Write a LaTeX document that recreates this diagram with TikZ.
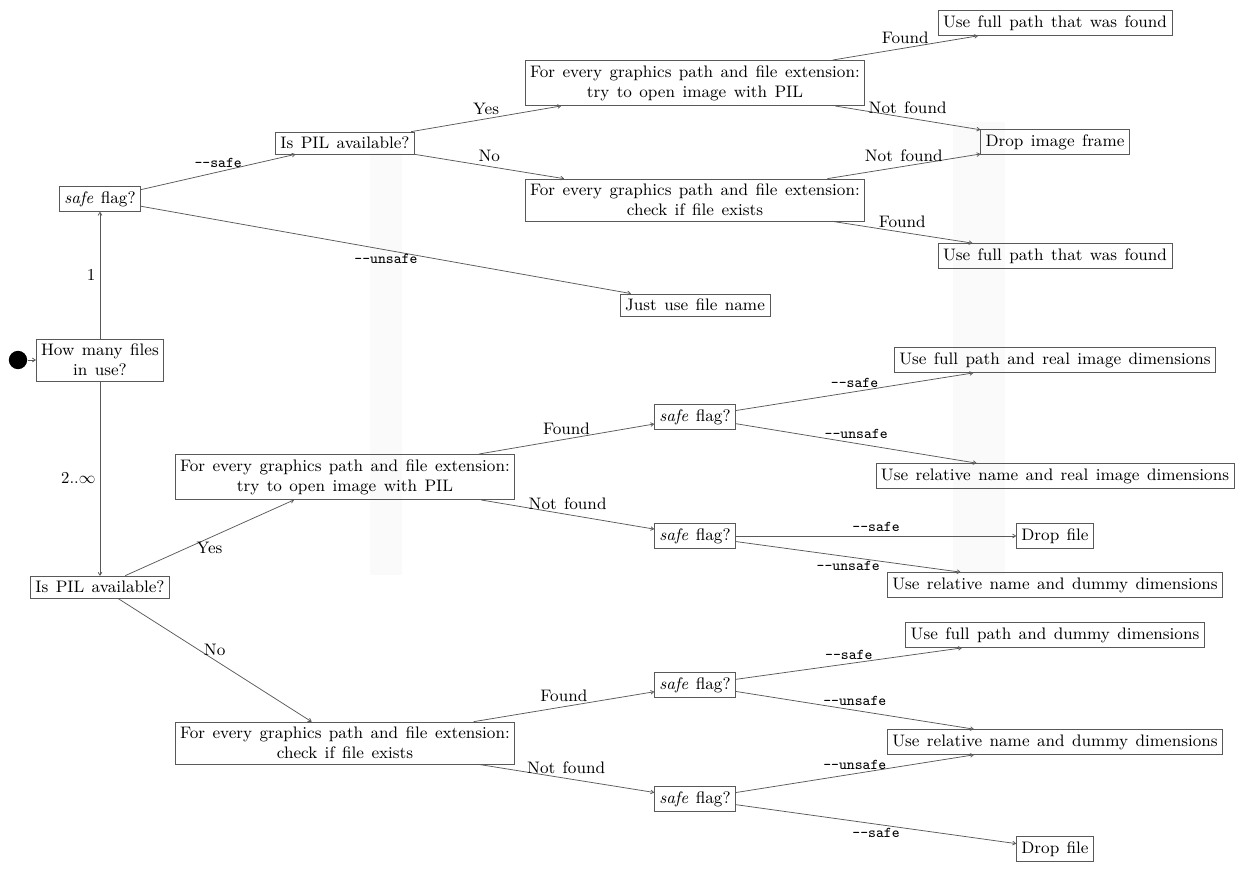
\documentclass[tikz,border=0pt]{standalone}
\usepackage{fontspec}
\setmainfont{lmroman9-regular.otf}[ItalicFont=lmroman9-italic.otf,WordSpace=1.3]
\setmonofont{lmmono9-regular.otf}
\usetikzlibrary{arrows.meta}
\begin{document}
\begin{tikzpicture}[x=0.6pt,y=-0.6pt,
  box/.style={draw=black!65,line width=0.45pt,align=center,inner sep=3pt},
  conn/.style={draw=black!65,line width=0.45pt,-{To[length=2.2pt,width=2.6pt]}},
  lab/.style={inner sep=2.5pt,font=\normalsize},
  tlab/.style={inner sep=2.5pt,font=\fontsize{9}{11}\selectfont\ttfamily},
  band/.style={fill=black!2,draw=none}]
\useasboundingbox (0,0) rectangle (1250,875);
% faint bands
\fill[band] (370,153) rectangle (402,575);
\fill[band] (953,122) rectangle (1005,575);
% nodes
\node[circle,fill=black,minimum size=11pt,inner sep=0pt] (start) at (18,360) {};
\node[box] (many) at (100,360) {How many files\\in use?};
\node[box] (safe1) at (100,199) {\emph{safe} flag?};
\node[box] (pil1) at (345,143) {Is PIL available?};
\node[box] (try1) at (695,83) {For every graphics path and file extension:\\try to open image with PIL};
\node[box] (chk1) at (695,200) {For every graphics path and file extension:\\check if file exists};
\node[box] (found1) at (1055,23) {Use full path that was found};
\node[box] (drop) at (1055,142) {Drop image frame};
\node[box] (found2) at (1055,256) {Use full path that was found};
\node[box] (just) at (695,305) {Just use file name};
\node[box] (pil2) at (100,587) {Is PIL available?};
\node[box] (try2) at (345,477) {For every graphics path and file extension:\\try to open image with PIL};
\node[box] (chk2) at (345,743) {For every graphics path and file extension:\\check if file exists};
\node[box] (safeA) at (695,417) {\emph{safe} flag?};
\node[box] (safeB) at (695,536) {\emph{safe} flag?};
\node[box] (safeC) at (695,685) {\emph{safe} flag?};
\node[box] (safeD) at (695,799) {\emph{safe} flag?};
\node[box] (fullreal) at (1055,360) {Use full path and real image dimensions};
\node[box] (relreal) at (1055,476) {Use relative name and real image dimensions};
\node[box] (dropfileA) at (1055,536) {Drop file};
\node[box] (reldumA) at (1055,585) {Use relative name and dummy dimensions};
\node[box] (fulldum) at (1055,635) {Use full path and dummy dimensions};
\node[box] (reldumB) at (1055,742) {Use relative name and dummy dimensions};
\node[box] (dropfileB) at (1055,849) {Drop file};
% connectors
\draw[conn] (start) -- (many);
\draw[conn] (many) -- node[lab,midway,left]{1} (safe1);
\draw[conn] (many) -- node[lab,midway,left]{$2..\infty$} (pil2);
\draw[conn] (safe1) -- node[tlab,midway,above]{-{}-safe} (pil1);
\draw[conn] (safe1) -- node[tlab,midway,below]{-{}-unsafe} (just);
\draw[conn] (pil1) -- node[lab,midway,above]{Yes} (try1);
\draw[conn] (pil1) -- node[lab,midway,above]{No} (chk1);
\draw[conn] (try1) -- node[lab,midway,above]{Found} (found1);
\draw[conn] (try1) -- node[lab,midway,above]{Not found} (drop);
\draw[conn] (chk1) -- node[lab,midway,above]{Not found} (drop);
\draw[conn] (chk1) -- node[lab,midway,above]{Found} (found2);
\draw[conn] (pil2) -- node[lab,midway,below]{Yes} (try2);
\draw[conn] (pil2) -- node[lab,midway,above]{No} (chk2);
\draw[conn] (try2) -- node[lab,midway,above]{Found} (safeA);
\draw[conn] (try2) -- node[lab,midway,above]{Not found} (safeB);
\draw[conn] (safeA) -- node[tlab,midway,above]{-{}-safe} (fullreal);
\draw[conn] (safeA) -- node[tlab,midway,above]{-{}-unsafe} (relreal);
\draw[conn] (safeB) -- node[tlab,midway,above]{-{}-safe} (dropfileA);
\draw[conn] (safeB) -- node[tlab,midway,below]{-{}-unsafe} (reldumA);
\draw[conn] (chk2) -- node[lab,midway,above]{Found} (safeC);
\draw[conn] (chk2) -- node[lab,midway,above]{Not found} (safeD);
\draw[conn] (safeC) -- node[tlab,midway,above]{-{}-safe} (fulldum);
\draw[conn] (safeC) -- node[tlab,midway,above]{-{}-unsafe} (reldumB);
\draw[conn] (safeD) -- node[tlab,midway,above]{-{}-unsafe} (reldumB);
\draw[conn] (safeD) -- node[tlab,midway,below]{-{}-safe} (dropfileB);
\end{tikzpicture}
\end{document}
